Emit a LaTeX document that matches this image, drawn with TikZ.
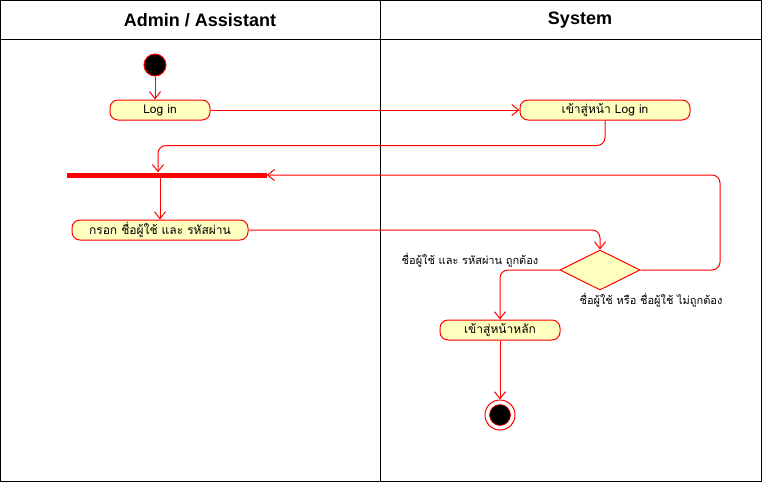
\documentclass[tikz,border=0pt]{standalone}
\usepackage{fontspec}
\setmainfont{Liberation Sans}
\newfontfamily\thaifont[Script=Thai]{Loma}
\usetikzlibrary{shapes.geometric,arrows.meta,positioning}
\definecolor{actfill}{HTML}{FFFFC0}

\begin{document}
\begin{tikzpicture}[x=1pt, y=-1pt,
    lane/.style={draw=black, line width=0.8pt},
    title/.style={font=\fontsize{18}{21}\selectfont\bfseries},
    activity/.style={rectangle, rounded corners=8pt, draw=red, fill=actfill, line width=1pt, minimum height=20pt, inner sep=0pt, font=\thaifont\fontsize{12}{14}\selectfont},
    startnode/.style={circle, draw=red, fill=black, line width=1pt, minimum size=22pt, inner sep=0pt},
    endring/.style={circle, draw=red, fill=white, line width=1pt, minimum size=30pt, inner sep=0pt},
    enddot/.style={circle, draw=red, fill=black, line width=0.6pt, minimum size=21pt, inner sep=0pt},
    forkbar/.style={rectangle, fill=red, minimum width=200pt, minimum height=5pt, inner sep=0pt},
    decision/.style={diamond, draw=red, fill=actfill, line width=1pt, minimum width=80pt, minimum height=40pt, inner sep=0pt, aspect=2},
    guard/.style={font=\thaifont\fontsize{11}{13}\selectfont},
    flow/.style={-{Straight Barb[length=7pt, width=11pt]}, draw=red, line width=1pt, rounded corners=8pt}
]
    \useasboundingbox (0,0) rectangle (762,482);

    % Swimlanes
    \draw[lane] (0.5,0.5) rectangle (761.5,481.5);
    \draw[lane] (0.5,39.5) -- (761.5,39.5);
    \draw[lane] (380.5,0.5) -- (380.5,481.5);
    \node[title] (adminlane) at (200,20) {Admin / Assistant};
    \node[title] (systemlane) at (580,20) {System};

    % Admin / Assistant
    \node[startnode] (start) at (155,65) {};
    \node[activity, minimum width=100pt] (login) at (160,110) {Log in};
    \node[forkbar] (fork) at (166.5,175) {};
    \node[activity, minimum width=176pt] (entry) at (160,230) {กรอก ชื่อผู้ใช้ และ รหัสผ่าน};

    % System
    \node[activity, minimum width=170pt] (loginpage) at (605,110) {เข้าสู่หน้า Log in};
    \node[decision] (check) at (600,270) {};
    \node[activity, minimum width=120pt] (mainpage) at (500,330) {เข้าสู่หน้าหลัก};
    \node[endring] (finish) at (500,415) {};
    \node[enddot] (finishdot) at (finish) {};

    % Guards
    \node[guard] (okguard) at (470,260) {ชื่อผู้ใช้ และ รหัสผ่าน ถูกต้อง};
    \node[guard] (failguard) at (651,300) {ชื่อผู้ใช้ หรือ ชื่อผู้ใช้ ไม่ถูกต้อง};

    % Flows
    \draw[flow] (start) -- (start |- login.north);
    \draw[flow] (login.east) -- (loginpage.west);
    \draw[flow] (loginpage.south) -- ++(0,25) -| ([xshift=-2pt]login.south |- fork.north);
    \draw[flow] (login.south |- fork.south) -- (entry.north);
    \draw[flow] (entry.east) -| (check.north);
    \draw[flow] (check.east) -- (720,270) |- (fork.east);
    \draw[flow] (check.west) -| (mainpage.north);
    \draw[flow] (mainpage.south) -- (finish.north);
\end{tikzpicture}
\end{document}
